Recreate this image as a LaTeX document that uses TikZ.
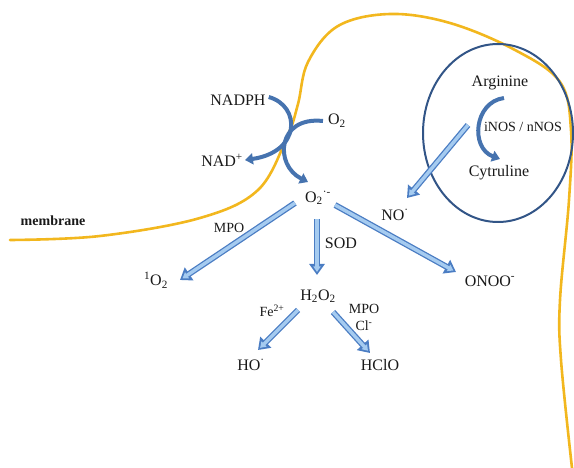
\documentclass[tikz,border=0pt]{standalone}
\usepackage{fontspec}
\setmainfont{Liberation Serif}
\usetikzlibrary{arrows.meta}
\definecolor{memb}{RGB}{242,183,30}
\definecolor{cellb}{RGB}{50,85,135}
\definecolor{arre}{RGB}{75,125,195}
\definecolor{arrf}{RGB}{165,203,240}
\definecolor{curv}{RGB}{70,115,175}
\definecolor{txt}{RGB}{25,25,25}
\begin{document}
\begin{tikzpicture}[x=1pt,y=-1pt,
  lab/.style={font=\fontsize{16}{18}\selectfont, inner sep=0pt, text=txt},
  slab/.style={font=\fontsize{14}{16}\selectfont, inner sep=0pt, text=txt},
  fat/.style={draw=arre, line width=6pt, -{Triangle[length=11pt,width=15pt]},
    postaction={draw=arrf, line width=3.4pt, shorten >=3pt, -{Triangle[length=5.5pt,width=7pt]}}},
  curved/.style={draw=curv, line width=4pt, -{Triangle[length=8pt,width=11pt]}},
  membline/.style={draw=memb, line width=2.6pt, line cap=round}]
\useasboundingbox (0,0) rectangle (574,468);
% membrane
\draw[membline] plot[smooth, tension=0.6] coordinates {(10,240) (100,236) (200,218) (258,190) (287,137) (298,104) (308,62) (338,26) (390,14) (450,23) (515,50) (560,82) (571,130) (569,200) (560,300) (561,360) (572,468)};
% cell
\draw[cellb, line width=2pt] (498,133) ellipse [x radius=75, y radius=89];
% labels
\node[lab] (nadph) at (238,100) {NADPH};
\node[lab] (o2) at (337,121) {O\textsubscript{2}};
\node[lab] (nad) at (222,160) {NAD\textsuperscript{+}};
\node[lab] (sup) at (318,198) {O\textsubscript{2}\textsuperscript{·-}};
\node[lab] (arg) at (500,83) {Arginine};
\node[slab] (nos) at (523,127) {iNOS / nNOS};
\node[lab] (cyt) at (499,173) {Cytruline};
\node[lab] (no) at (395,215) {NO\textsuperscript{·}};
\node[font=\bfseries\fontsize{14}{16}\selectfont, inner sep=0pt, text=txt] (mem) at (53,221) {membrane};
\node[slab] (mpo1) at (229,228) {MPO};
\node[lab] (sod) at (341,243) {SOD};
\node[lab] (o1) at (156,280) {\textsuperscript{1}O\textsubscript{2}};
\node[lab] (h2o2) at (318,296) {H\textsubscript{2}O\textsubscript{2}};
\node[lab] (onoo) at (490,281) {ONOO\textsuperscript{-}};
\node[slab] (fe) at (272,311) {Fe\textsuperscript{2+}};
\node[slab] (mpo2) at (364,309) {MPO};
\node[slab] (cl) at (364,326) {Cl\textsuperscript{-}};
\node[lab] (ho) at (251,365) {HO\textsuperscript{·}};
\node[lab] (hclo) at (380,365) {HClO};
% curved arrows
\draw[curved] ([shift={(3,-3)}]nadph.east) .. controls (301,106) and (301,152) .. ([shift={(2,0)}]nad.east);
\draw[curved] ([shift={(-5,0)}]o2.west) .. controls (277,116) and (274,165) .. ([shift={(-10,-16)}]sup.center);
\draw[curved] ([shift={(4,15)}]arg.center) .. controls (474,102) and (470,148) .. ([shift={(1,-14)}]cyt.center);
% straight arrows
\draw[fat] ([shift={(-23,5)}]sup.center) -- ([shift={(24,0)}]o1.center);
\draw[fat] ([shift={(-1,21)}]sup.center) -- ([shift={(-1,-21)}]h2o2.center);
\draw[fat] ([shift={(17,7)}]sup.center) -- ([shift={(-34,-9)}]onoo.center);
\draw[fat] ([shift={(-32,42)}]arg.center) -- ([shift={(12,-17)}]no.center);
\draw[fat] ([shift={(-20,14)}]h2o2.center) -- ([shift={(7,-15)}]ho.center);
\draw[fat] ([shift={(15,16)}]h2o2.center) -- ([shift={(-10,-12)}]hclo.center);
\end{tikzpicture}
\end{document}
